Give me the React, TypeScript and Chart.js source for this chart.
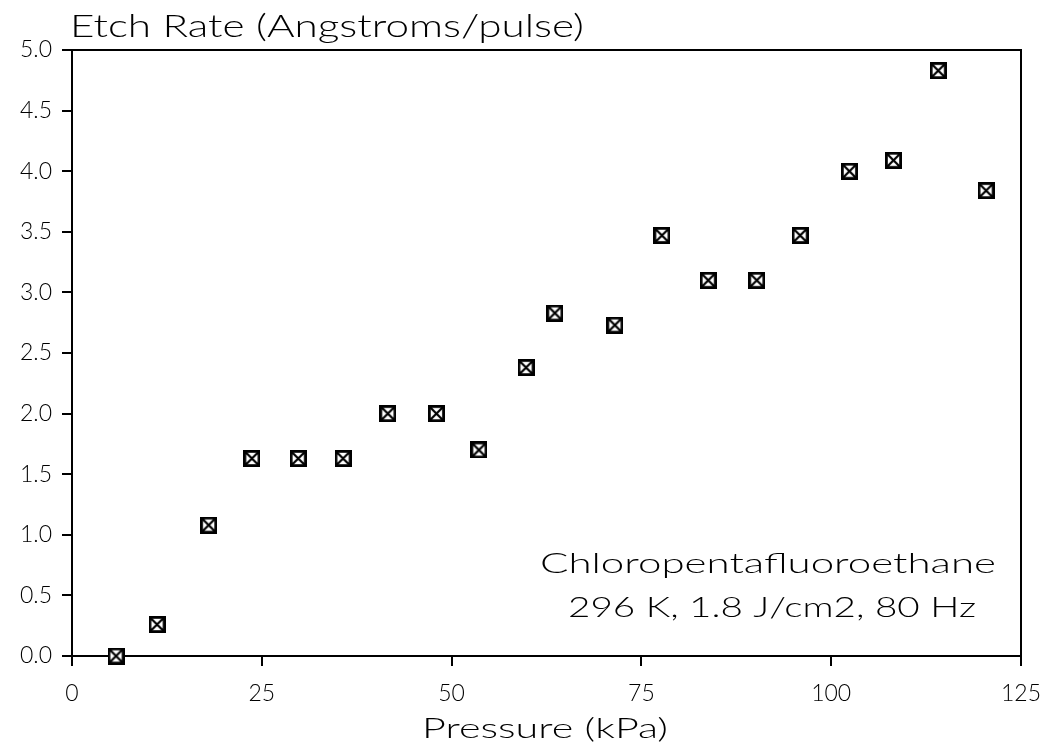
import React, { useEffect, useRef } from "react";
import { Chart, registerables } from "chart.js";

Chart.register(...registerables);

const pressure = [5.8, 11.2, 18.0, 23.7, 29.8, 35.7, 41.6, 48.0, 53.6, 59.8, 63.6, 71.5, 77.7, 83.8, 90.2, 95.9, 102.4, 108.2, 114.1, 120.4];
const etchRate = [0.0, 0.26, 1.08, 1.63, 1.63, 1.63, 2.0, 2.0, 1.7, 2.38, 2.83, 2.73, 3.47, 3.1, 3.1, 3.47, 4.0, 4.09, 4.83, 3.84];
const xTicks = [0, 25, 50, 75, 100, 125];
const yTicks = [0, 0.5, 1.0, 1.5, 2.0, 2.5, 3.0, 3.5, 4.0, 4.5, 5.0];
const yTitle = "Etch Rate (Angstroms/pulse)";
const xTitle = "Pressure (kPa)";
const noteLines = ["Chloropentafluoroethane", "296 K, 1.8 J/cm2, 80 Hz"];

const FONT = "Lato, 'DejaVu Sans', sans-serif";

function makeMarker(): HTMLCanvasElement {
  const s = 17;
  const c = document.createElement("canvas");
  c.width = s;
  c.height = s;
  const g = c.getContext("2d")!;
  g.fillStyle = "#fff";
  g.fillRect(0, 0, s, s);
  g.strokeStyle = "#000";
  g.lineWidth = 2.8;
  g.strokeRect(1.4, 1.4, s - 2.8, s - 2.8);
  g.lineWidth = 2.2;
  g.beginPath();
  g.moveTo(2, 2);
  g.lineTo(s - 2, s - 2);
  g.moveTo(s - 2, 2);
  g.lineTo(2, s - 2);
  g.stroke();
  return c;
}

function fitText(ctx: CanvasRenderingContext2D, text: string, left: number, baseline: number, width: number, size: number) {
  ctx.save();
  ctx.font = `300 ${size}px ${FONT}`;
  ctx.fillStyle = "#000";
  ctx.textBaseline = "alphabetic";
  ctx.textAlign = "left";
  const w = ctx.measureText(text).width;
  ctx.translate(left, baseline);
  ctx.scale(width / w, 1);
  ctx.fillText(text, 0, 0);
  ctx.restore();
}

const framePlugin = {
  id: "frameAndTexts",
  afterDraw(chart: any) {
    const { ctx, chartArea } = chart;
    ctx.save();
    ctx.strokeStyle = "#000";
    ctx.lineWidth = 2;
    ctx.beginPath();
    ctx.moveTo(chartArea.left, chartArea.top);
    ctx.lineTo(chartArea.right, chartArea.top);
    ctx.lineTo(chartArea.right, chartArea.bottom);
    ctx.stroke();
    ctx.restore();
    fitText(ctx, yTitle, 70, 37, 514, 32);
    fitText(ctx, xTitle, 422, 738, 246, 28);
    fitText(ctx, noteLines[0], 540, 573, 456, 28);
    fitText(ctx, noteLines[1], 568, 617, 408, 28);
  },
};

export default function App() {
  const ref = useRef<HTMLCanvasElement | null>(null);
  useEffect(() => {
    const marker = makeMarker();
    const chart = new Chart(ref.current!, {
      type: "scatter",
      data: {
        datasets: [
          {
            data: pressure.map((x, i) => ({ x, y: etchRate[i] })),
            pointStyle: marker as any,
            pointRadius: 8,
            clip: false as any,
          },
        ],
      },
      options: {
        animation: false,
        responsive: false,
        layout: { padding: { top: 50, right: 25, left: 0, bottom: 0 } },
        plugins: { legend: { display: false }, tooltip: { enabled: false } },
        scales: {
          x: {
            type: "linear",
            min: 0,
            max: 125,
            afterBuildTicks: (s: any) => {
              s.ticks = xTicks.map((v) => ({ value: v }));
            },
            afterFit: (s: any) => {
              s.height = 96;
              s.paddingLeft = 0;
              s.paddingRight = 0;
            },
            ticks: { font: { family: FONT, size: 23, weight: 300 as any }, color: "#000", padding: 14, maxRotation: 0 },
            grid: { drawOnChartArea: false, drawTicks: true, tickLength: 10, color: "#000", lineWidth: 2 },
            border: { display: true, color: "#000", width: 2 },
          },
          y: {
            type: "linear",
            min: 0,
            max: 5,
            afterBuildTicks: (s: any) => {
              s.ticks = yTicks.map((v) => ({ value: v }));
            },
            afterFit: (s: any) => {
              s.width = 72;
              s.paddingTop = 0;
              s.paddingBottom = 0;
            },
            ticks: {
              font: { family: FONT, size: 23, weight: 300 as any },
              color: "#000",
              padding: 10,
              callback: (v: any) => Number(v).toFixed(1),
            },
            grid: { drawOnChartArea: false, drawTicks: true, tickLength: 10, color: "#000", lineWidth: 2 },
            border: { display: true, color: "#000", width: 2 },
          },
        },
      },
      plugins: [framePlugin],
    });
    return () => chart.destroy();
  }, []);
  return (
    <div style={{ position: "fixed", left: 0, top: 0, width: 1046, height: 752, background: "#fff" }}>
      <canvas ref={ref} width={1046} height={752} style={{ width: 1046, height: 752 }} />
    </div>
  );
}
